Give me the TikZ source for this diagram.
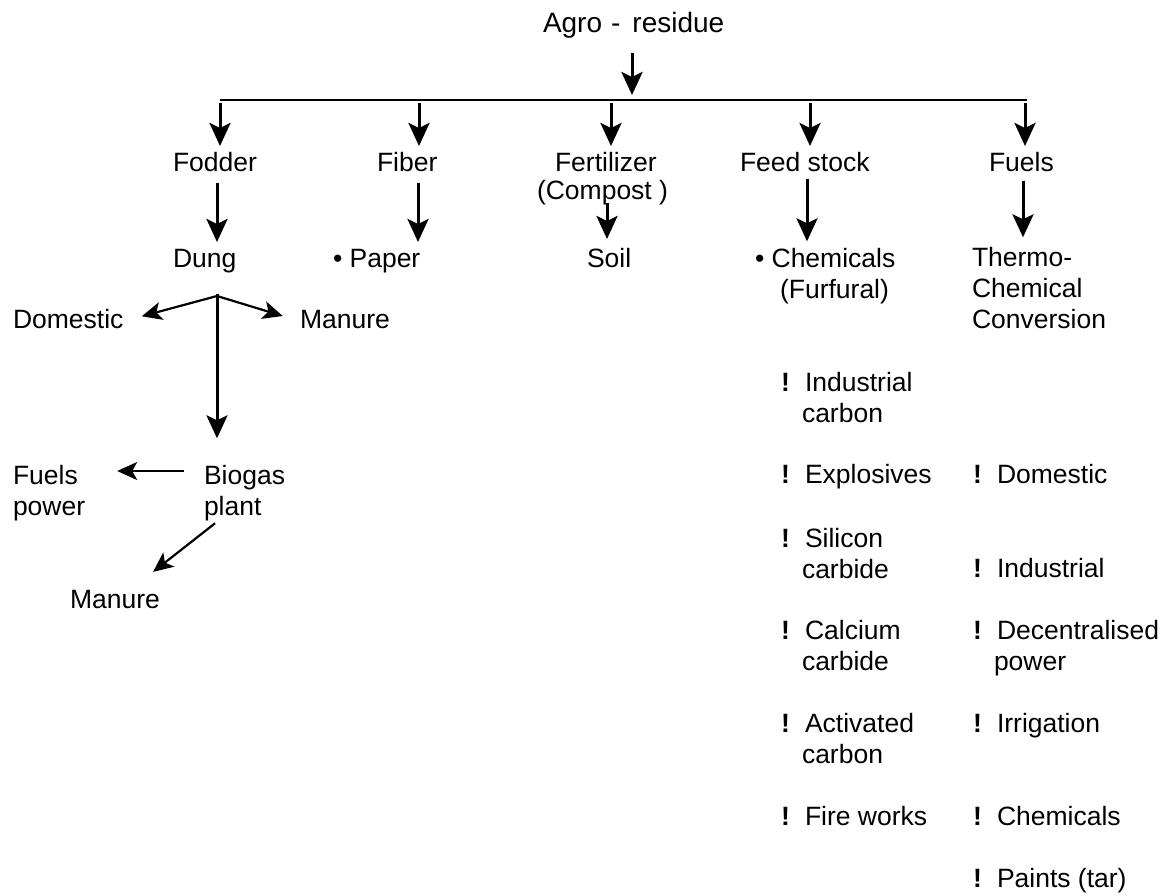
\documentclass[tikz,border=0pt]{standalone}
\usepackage{fontspec}
\setmainfont{Liberation Sans}
\usetikzlibrary{arrows.meta}
\newcommand{\bodyfont}{\fontsize{26.5}{31}\selectfont}
\newcommand{\ml}[1]{\begin{tabular}[t]{@{}l@{}}#1\end{tabular}}
\begin{document}
\begin{tikzpicture}[x=1pt,y=-1pt,
  lbl/.style={font=\bodyfont, anchor=base west, inner xsep=0pt, inner ysep=6pt, text height=19pt, text depth=5.5pt, outer sep=0pt},
  multi/.style={font=\bodyfont, anchor=base west, inner xsep=0pt, inner ysep=4pt, outer sep=0pt},
  bang/.style={font=\bodyfont\bfseries, anchor=base west, inner sep=0pt},
  big/.style={line width=3pt, -{Stealth[length=23pt,width=21pt,inset=5pt]}},
  small/.style={line width=2.2pt, -{Stealth[length=20pt,width=18pt,inset=5pt]}},
  busline/.style={line width=2.5pt}]
\fill[white] (0,0) rectangle (1165,895);
\useasboundingbox (0,0) rectangle (1165,895);

% top
\node[lbl, font=\fontsize{28}{32}\selectfont] (agro) at (543,32) {Agro\hspace{9pt}-\hspace{12pt}residue};
\coordinate (hub) at (632,100);
\coordinate (busL) at (220,100);
\coordinate (busR) at (1027,100);
\coordinate (b1) at (220,100);
\coordinate (b2) at (419,100);
\coordinate (b3) at (611,100);
\coordinate (b4) at (810,100);
\coordinate (b5) at (1025,100);
\coordinate (k1) at (217,0);
\coordinate (k2) at (418,0);
\coordinate (k3) at (607,0);
\coordinate (k4) at (807,0);
\coordinate (k5) at (1023,0);

% first level
\node[lbl] (fodder) at (173,171) {Fodder};
\node[lbl] (fiber) at (377,171) {Fiber};
\node[lbl] (fert) at (555,171) {Fertilizer};
\node[lbl] (compost) at (537,199) {(Compost )};
\node[lbl] (feed) at (740,171) {Feed stock};
\node[lbl] (fuels) at (989,171) {Fuels};

% second level
\node[lbl] (dung) at (173,267) {Dung};
\node[lbl] (paper) at (333,267) {• Paper};
\node[lbl] (soil) at (587,267) {Soil};
\node[multi] (chem) at (755,267) {\ml{• Chemicals\\\hspace*{25pt}(Furfural)}};
\node[multi] (thermo) at (972,266) {\ml{Thermo-\\Chemical\\Conversion}};

% dung branch
\node[lbl] (domestic) at (13,328) {Domestic};
\node[lbl] (manure1) at (300,328) {Manure};
\node[multi] (biogas) at (204,484) {\ml{Biogas\\plant}};
\node[multi] (fuelsp) at (13,484) {\ml{Fuels\\power}};
\node[lbl] (manure2) at (70,608) {Manure};
\coordinate (split) at (217,296);

% feed stock list
\node[bang] (lb1) at (781,391) {!};
\node[multi] (li1) at (805,391) {\ml{Industrial\\\hspace*{-3pt}carbon}};
\node[bang] (lb2) at (781,483) {!};
\node[multi] (li2) at (805,483) {Explosives};
\node[bang] (lb3) at (781,547) {!};
\node[multi] (li3) at (805,547) {\ml{Silicon\\\hspace*{-3pt}carbide}};
\node[bang] (lb4) at (781,639) {!};
\node[multi] (li4) at (805,639) {\ml{Calcium\\\hspace*{-3pt}carbide}};
\node[bang] (lb5) at (781,732) {!};
\node[multi] (li5) at (805,732) {\ml{Activated\\\hspace*{-3pt}carbon}};
\node[bang] (lb6) at (781,825) {!};
\node[multi] (li6) at (805,825) {Fire works};

% fuels list
\node[bang] (rb1) at (973,483) {!};
\node[multi] (ri1) at (997,483) {Domestic};
\node[bang] (rb2) at (973,577) {!};
\node[multi] (ri2) at (997,577) {Industrial};
\node[bang] (rb3) at (973,639) {!};
\node[multi] (ri3) at (997,639) {\ml{Decentralised\\\hspace*{-3pt}power}};
\node[bang] (rb4) at (973,732) {!};
\node[multi] (ri4) at (997,732) {Irrigation};
\node[bang] (rb5) at (973,825) {!};
\node[multi] (ri5) at (997,825) {Chemicals};
\node[bang] (rb6) at (973,887) {!};
\node[multi] (ri6) at (997,887) {Paints (tar)};

% connectors
\draw[big, shorten <=9.5pt, shorten >=5pt] (agro.south -| hub) -- (hub);
\draw[busline] (busL) -- (busR);
\draw[big, shorten <=3pt] (b1) -- (b1 |- fodder.north);
\draw[big, shorten <=3pt] (b2) -- (b2 |- fiber.north);
\draw[big, shorten <=3pt] (b3) -- (b3 |- fert.north);
\draw[big, shorten <=3pt] (b4) -- (b4 |- feed.north);
\draw[big, shorten <=3pt] (b5) -- (b5 |- fuels.north);

\draw[big] (fodder.south -| k1) -- (dung.north -| k1);
\draw[big] (fiber.south -| k2) -- (paper.north -| k2);
\draw[big, shorten <=-7.5pt, shorten >=3pt] (compost.south -| k3) -- (soil.north -| k3);
\draw[big, shorten <=-4pt] (feed.south -| k4) -- (chem.north -| k4);
\draw[big, shorten <=-2pt, shorten >=3pt] (fuels.south -| k5) -- (thermo.north -| k5);

\draw[big, shorten <=15.5pt, shorten >=20pt] (dung.south -| k1) -- (biogas.north -| k1);
\draw[small, shorten >=19pt] (split) -- (domestic.east);
\draw[small, shorten >=18pt] (split) -- (manure1.west);
\draw[small, shorten <=20pt, shorten >=32pt] ([yshift=13pt]biogas.base west) -- ([yshift=13pt]fuelsp.base east);
\draw[small, shorten >=18pt] ([shift={(11pt,5pt)}]biogas.south west) -- ([xshift=24pt]manure2.north);
\end{tikzpicture}
\end{document}
